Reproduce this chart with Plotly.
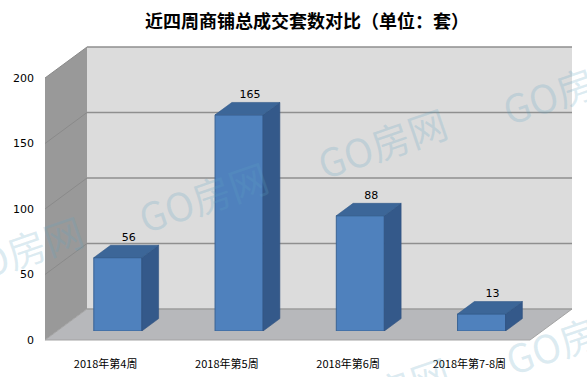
import plotly.graph_objects as go

# ---------------- data ----------------
categories = ["2018年第4周", "2018年第5周", "2018年第6周", "2018年第7-8周"]
values = [56, 165, 88, 13]
y_ticks = [0, 50, 100, 150, 200]
y_max = 200
title_text = "近四周商铺总成交套数对比（单位：套）"
watermark = "GO房网"

# ---------------- geometry (pixels) ----------------
W, H = 587, 377
def px(x): return x / W
def py(y): return 1 - y / H

FX0, FX1 = 45, 530          # front edge of the floor
FY0 = 340                   # pixel of value 0 at the front plane
SCALE = 262 / y_max         # pixels per unit
DX, DY = 42, 31             # full depth offset (right, up)
D0, D1 = 0.29, 0.69         # bar front / back depth fractions

def P(v, d, xf):
    """project (front x pixel, value, depth fraction) -> pixel"""
    return xf + d * DX, FY0 - SCALE * v - d * DY

slot = (FX1 - FX0) / len(categories)
hw = 0.198                  # half bar width (category units)
ddx = (D1 - D0) * DX / slot # depth offset in category units
ddy = (D1 - D0) * DY / SCALE  # depth offset in value units

FRONT = "#4f81bd"
SIDE = "#34598a"
TOP = "#3c6698"

fig = go.Figure()

# front faces of the bars
fig.add_trace(go.Bar(
    x=list(range(len(values))), y=values, width=2 * hw,
    marker=dict(color=FRONT, line=dict(color="#3a6394", width=1)),
    xaxis="x", yaxis="y", hoverinfo="skip", showlegend=False))

# side faces
sx, sy = [], []
for i, v in enumerate(values):
    sx += [i + hw, i + hw + ddx, i + hw + ddx, i + hw, i + hw, None]
    sy += [0, ddy, v + ddy, v, 0, None]
fig.add_trace(go.Scatter(x=sx, y=sy, mode="lines", fill="toself",
                         fillcolor=SIDE, line=dict(color="#2f5080", width=0.6),
                         xaxis="x", yaxis="y", hoverinfo="skip", showlegend=False))
# top faces
tx, ty = [], []
for i, v in enumerate(values):
    tx += [i - hw, i + hw, i + hw + ddx, i - hw + ddx, i - hw, None]
    ty += [v, v, v + ddy, v + ddy, v, None]
fig.add_trace(go.Scatter(x=tx, y=ty, mode="lines", fill="toself",
                         fillcolor=TOP, line=dict(color="#335a8a", width=0.6),
                         xaxis="x", yaxis="y", hoverinfo="skip", showlegend=False))
# data labels
fig.add_trace(go.Scatter(
    x=[i + 0.09 for i in range(len(values))], y=[v + ddy + 1.5 for v in values],
    mode="text", text=[str(v) for v in values], textposition="top center",
    textfont=dict(family="DejaVu Sans", size=11, color="#000000"),
    xaxis="x", yaxis="y", hoverinfo="skip", showlegend=False))

# invisible trace for the front (label) axes
fig.add_trace(go.Scatter(x=categories, y=[0] * len(categories), mode="markers",
                         marker=dict(opacity=0), xaxis="x2", yaxis="y2",
                         hoverinfo="skip", showlegend=False))

# ---------------- walls / floor ----------------
shapes = []
def poly(pts, fill, line_color=None, lw=0):
    path = "M " + " L ".join(f"{px(x):.5f},{py(y):.5f}" for x, y in pts) + " Z"
    shapes.append(dict(type="path", path=path, xref="paper", yref="paper",
                       fillcolor=fill, line=dict(color=line_color or fill, width=lw),
                       layer="below"))
def seg(p0, p1, color, lw):
    shapes.append(dict(type="line", xref="paper", yref="paper",
                       x0=px(p0[0]), y0=py(p0[1]), x1=px(p1[0]), y1=py(p1[1]),
                       line=dict(color=color, width=lw), layer="below"))

# back wall
poly([P(0, 1, FX0), P(y_max, 1, FX0), P(y_max, 1, FX1), P(0, 1, FX1)], "#dcdcdc")
# side wall
poly([P(0, 0, FX0), P(y_max, 0, FX0), P(y_max, 1, FX0), P(0, 1, FX0)], "#999999")
# floor
poly([P(0, 0, FX0), P(0, 1, FX0), P(0, 1, FX1), P(0, 0, FX1)], "#b7b8bb", "#a3a3a3", 1)
# gridlines
for v in y_ticks[1:]:
    seg(P(v, 1, FX0), P(v, 1, FX1), "#8f8f8f", 1.6)
    seg(P(v, 0, FX0), P(v, 1, FX0), "#8a8a8a", 1)
seg(P(0, 1, FX0), P(0, 1, FX1), "#9a9a9a", 1.2)

# ---------------- watermarks ----------------
annotations = []
for cx, cy in [(203, 196), (382, 142), (18, 250), (567, 88), (570, 338), (385, 391)]:
    annotations.append(dict(text=watermark, x=px(cx), y=py(cy), xref="paper", yref="paper",
                            xanchor="center", yanchor="middle",
                            showarrow=False, textangle=-19,
                            font=dict(family="Noto Sans CJK SC", size=39,
                                      color="rgba(95,165,195,0.22)")))

fig.update_layout(
    width=W, height=H, margin=dict(l=0, r=0, t=0, b=0, autoexpand=False),
    paper_bgcolor="#ffffff", plot_bgcolor="rgba(0,0,0,0)",
    title=dict(text=title_text, x=px(307), y=py(22), xanchor="center", yanchor="middle",
               automargin=False,
               font=dict(family="Noto Sans CJK SC", size=18, color="#000000", weight="bold")),
    xaxis=dict(domain=[px(FX0 + D0 * DX), px(FX1 + D0 * DX)], range=[-0.5, len(values) - 0.5],
               visible=False, anchor="y", fixedrange=True, automargin=False),
    yaxis=dict(domain=[py(FY0 - D0 * DY), py(FY0 - D0 * DY - SCALE * y_max)],
               range=[0, y_max], visible=False, anchor="x", fixedrange=True, automargin=False),
    xaxis2=dict(domain=[px(FX0), px(FX1)], type="category", range=[-0.5, len(categories) - 0.5],
                anchor="y2", showgrid=False, showline=False, zeroline=False, ticks="",
                ticklabelstandoff=16, automargin=False, fixedrange=True,
                tickfont=dict(family="Noto Sans CJK SC", size=11, color="#000000")),
    yaxis2=dict(domain=[py(FY0), py(FY0 - SCALE * y_max)], range=[0, y_max],
                tickvals=y_ticks, anchor="x2", showgrid=False, showline=False,
                zeroline=False, ticks="", ticklabelstandoff=10, automargin=False,
                fixedrange=True,
                tickfont=dict(family="DejaVu Sans", size=11, color="#000000")),
    shapes=shapes, annotations=annotations,
)

fig.write_html("out.html", config={"displayModeBar": False},
               post_script="document.body.style.margin='0';")
